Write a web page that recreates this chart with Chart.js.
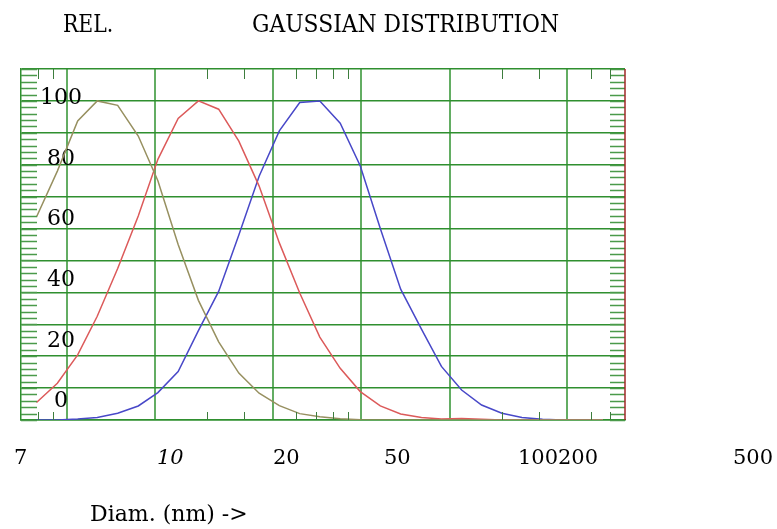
<!DOCTYPE html>
<html>
<head>
<meta charset="utf-8">
<script src="https://cdn.jsdelivr.net/npm/chart.js@4.4.1/dist/chart.umd.min.js"></script>
<style>
  body { margin: 0; background: #fff; }
  #wrap { position: relative; width: 777px; height: 529px; overflow: hidden; }
  #chart { position: absolute; left: 0; top: 0; }
  .txt { position: absolute; font-family: 'DejaVu Serif', serif; color: #000; white-space: nowrap; line-height: 1; transform-origin: 0 0; }
</style>
</head>
<body>
<div id="wrap">
  <canvas id="chart" width="777" height="529"></canvas>
  <div class="txt" id="rel" style="left:63px; top:12px; font-size:24px; transform:scaleX(0.85);">REL.</div>
  <div class="txt" id="title" style="left:252px; top:12px; font-size:24px; transform:scaleX(0.91);">GAUSSIAN DISTRIBUTION</div>
  <div class="txt" id="xtitle" style="left:90px; top:503px; font-size:22px;">Diam. (nm) -&gt;</div>
</div>
<script>
const diameters = [7.9, 9.3, 10.9, 12.7, 14.9, 17.5, 20.4, 23.9, 28.0, 32.8, 38.4, 45.0, 52.7, 61.8, 72.3,
                   84.8, 99.2, 116, 136, 160, 187, 219, 256, 300, 351, 412, 482, 565, 661];

// Relative intensity of the three distributions
const olive = [63.6, 78, 93.7, 100, 98.6, 89, 75, 55, 37.5, 24.5, 14.7, 8.4, 4.5, 2.0, 1.0,
               0.4, 0.1, 0, 0, 0, 0, 0, 0, 0, 0, 0, 0, 0, 0];
const red   = [5.5, 11.5, 20.4, 32.5, 47.5, 63.9, 81.7, 94.5, 100, 97.4, 87.4, 73.3, 55.5, 39.8, 26.0,
               16.2, 8.9, 4.4, 1.9, 0.8, 0.3, 0.5, 0.2, 0, 0, 0, 0, 0, 0];
const blue  = [0, 0, 0.3, 0.8, 2.1, 4.4, 8.6, 15.2, 28, 40.3, 58, 76.4, 90.6, 99.5, 100,
               93, 79.6, 60, 41, 28.5, 16.8, 9.4, 4.7, 2.1, 0.8, 0.2, 0, 0, 0];

// Axis values
const xGrid = [10, 20, 50, 100, 200, 500];
const xMinor = [8, 9, 30, 40, 60, 70, 80, 90, 300, 400, 600, 700];
const yGrid = [0, 10, 20, 30, 40, 50, 60, 70, 80, 90, 100, 110];
const yTickLabels = [0, 20, 40, 60, 80, 100];
const xTickLabels = ['7', '10', '20', '50', '100', '200', '500'];

// where the x labels sit in the picture (they do not line up with the grid)
const xLabelLeft = [14, 157, 273, 384, 518, 558, 733];
const xLabelItalic = [false, true, false, false, false, false, false];

const wrap = document.getElementById('wrap');
xTickLabels.forEach((t, i) => {
    const d = document.createElement('div');
    d.className = 'txt';
    d.textContent = t;
    d.style.left = xLabelLeft[i] + 'px';
    d.style.top = '447px';
    d.style.fontSize = '21px';
    if (xLabelItalic[i]) d.style.fontStyle = 'italic';
    wrap.appendChild(d);
});

function points(ys) {
    return diameters.map((d, i) => ({ x: d, y: ys[i] }));
}

// short tick marks inside the frame + dark red right edge
const frameTicks = {
    id: 'frameTicks',
    afterDraw(chart) {
        const ctx = chart.ctx;
        const a = chart.chartArea;
        const xs = chart.scales.x;
        const ys = chart.scales.y;
        ctx.save();
        ctx.strokeStyle = '#4a9a4a';
        ctx.lineWidth = 1.5;
        ctx.beginPath();
        for (let v = 0; v <= 110; v += 2) {
            const py = Math.round(ys.getPixelForValue(v)) + 0.5;
            ctx.moveTo(a.left, py); ctx.lineTo(a.left + 16, py);
            ctx.moveTo(a.right - 15, py); ctx.lineTo(a.right, py);
        }
        ctx.stroke();
        ctx.strokeStyle = '#3d7d3d';
        ctx.lineWidth = 1;
        ctx.beginPath();
        xMinor.forEach(v => {
            const px = Math.round(xs.getPixelForValue(v)) + 0.5;
            ctx.moveTo(px, a.top); ctx.lineTo(px, a.top + 10);
            ctx.moveTo(px, a.bottom); ctx.lineTo(px, a.bottom - 8);
        });
        ctx.stroke();
        ctx.strokeStyle = '#a02828';
        ctx.lineWidth = 1.5;
        ctx.beginPath();
        ctx.moveTo(a.right, a.top); ctx.lineTo(a.right, a.bottom);
        ctx.stroke();
        ctx.restore();
    }
};

const lineStyle = { borderWidth: 1.5, pointRadius: 0, tension: 0, fill: false };
const noWidth = s => { s.width = 0; };

new Chart(document.getElementById('chart'), {
    type: 'line',
    data: {
        datasets: [
            { data: points(olive), borderColor: '#979060', ...lineStyle },
            { data: points(red), borderColor: '#dc5a5a', ...lineStyle },
            { data: points(blue), borderColor: '#4848c8', ...lineStyle }
        ]
    },
    options: {
        responsive: false,
        devicePixelRatio: 1,
        animation: false,
        layout: { padding: { left: 21, top: 69, right: 152, bottom: 109 } },
        plugins: { legend: { display: false }, tooltip: { enabled: false }, title: { display: false } },
        scales: {
            x: {
                type: 'logarithmic',
                min: 7,
                max: 785,
                afterBuildTicks: s => { s.ticks = xGrid.map(v => ({ value: v })); },
                afterFit: s => { s.height = 0; },
                ticks: { display: false },
                grid: { color: '#63ad63', lineWidth: 2, drawTicks: false },
                border: { display: true, color: '#2f8f2f', width: 1.5 }
            },
            y: {
                type: 'linear',
                position: 'left',
                min: 0,
                max: 110,
                afterBuildTicks: s => { s.ticks = yGrid.map(v => ({ value: v })); },
                afterFit: noWidth,
                ticks: { display: false },
                grid: { color: '#2f8f2f', lineWidth: 1.5, drawTicks: false },
                border: { display: true, color: '#2f8f2f', width: 1.5 }
            },
            yLabels: {
                type: 'linear',
                position: 'left',
                min: -6.1,
                max: 109.7,
                afterBuildTicks: s => { s.ticks = yTickLabels.map(v => ({ value: v })); },
                afterFit: noWidth,
                ticks: {
                    mirror: true,
                    crossAlign: 'center',
                    padding: 19,
                    color: '#000',
                    font: { family: 'DejaVu Serif', size: 22 }
                },
                grid: { display: false, drawTicks: false },
                border: { display: false }
            }
        }
    },
    plugins: [frameTicks]
});
</script>
</body>
</html>
